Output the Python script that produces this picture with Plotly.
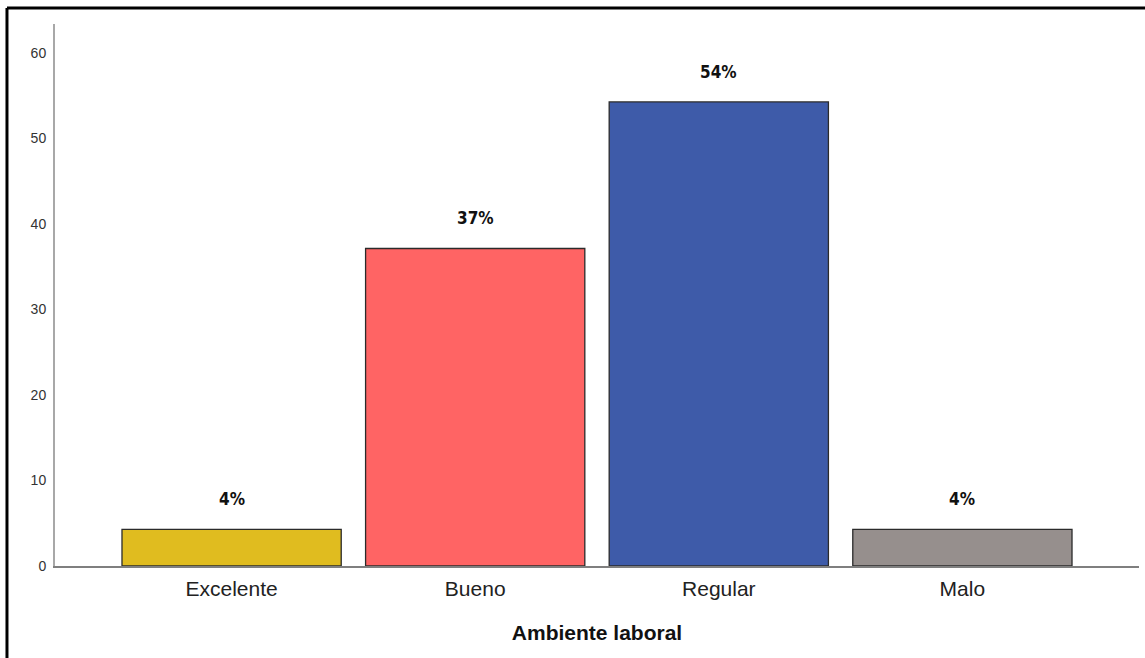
import plotly.graph_objects as go

# Ambiente laboral: percentage of respondents per category
categorias = ["Excelente", "Bueno", "Regular", "Malo"]
porcentajes = [4.29, 37.14, 54.29, 4.29]
etiquetas = ["4%", "37%", "54%", "4%"]
colores = ["#E0BC1F", "#FF6464", "#3E5BA9", "#968F8D"]
ticks_y = [0, 10, 20, 30, 40, 50, 60]

fig = go.Figure()
fig.add_trace(go.Bar(
    x=categorias,
    y=porcentajes,
    marker=dict(color=colores, line=dict(color="#2b2b2b", width=1.3)),
    hoverinfo="skip",
))

# Bold value labels above each bar
for cat, val, txt in zip(categorias, porcentajes, etiquetas):
    fig.add_annotation(
        x=cat, y=val, text=txt, showarrow=False,
        yshift=30,
        font=dict(family="Liberation Sans Narrow, Arial Narrow, DejaVu Sans Condensed",
                  size=17, color="#111111", weight="bold"),
    )

# Frame around the chart area (top and left edges)
fig.add_shape(type="line", xref="paper", yref="paper",
              x0=-0.0443, y0=1.0295, x1=1.02, y1=1.0295,
              line=dict(color="black", width=3))
fig.add_shape(type="line", xref="paper", yref="paper",
              x0=-0.0443, y0=1.0295, x1=-0.0443, y1=-0.2,
              line=dict(color="black", width=3))

fig.update_layout(
    width=1145, height=658,
    margin=dict(l=55, r=6, t=24, b=92),
    paper_bgcolor="white", plot_bgcolor="white",
    bargap=0.1,
    showlegend=False,
    font=dict(family="Liberation Sans, Arial, sans-serif", color="#222222"),
    xaxis=dict(
        type="category",
        range=[-0.725, 3.725],
        showline=True, linecolor="#7f7f7f", linewidth=2,
        showgrid=False, ticks="",
        ticklabelstandoff=3,
        tickfont=dict(size=21, color="#222222"),
        title=dict(text="<b>Ambiente laboral</b>", font=dict(size=21, color="#111111"),
                   standoff=26),
    ),
    yaxis=dict(
        range=[0, 63.4],
        tickvals=ticks_y,
        showline=True, linecolor="#a8a8a8", linewidth=2,
        showgrid=False, zeroline=False, ticks="",
        ticklabelstandoff=4,
        tickfont=dict(size=14, color="#333333"),
    ),
)

fig.write_html("out.html")
